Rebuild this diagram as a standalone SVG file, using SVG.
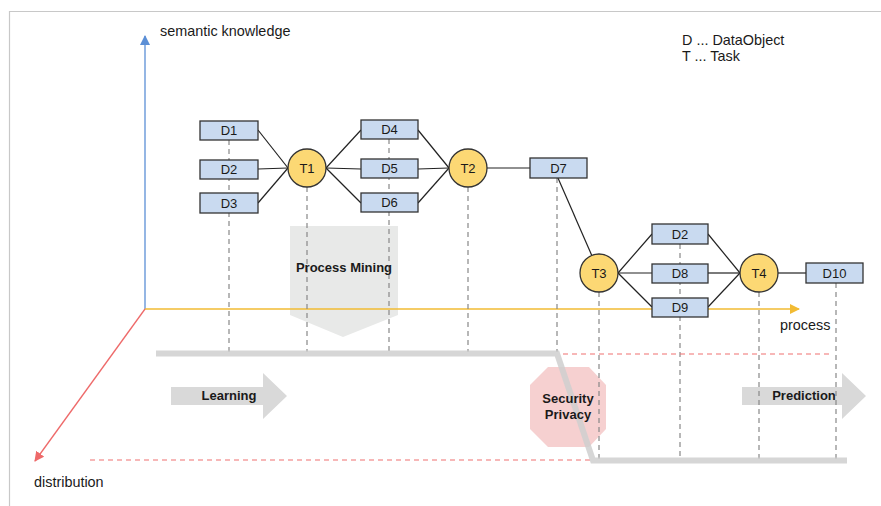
<svg xmlns="http://www.w3.org/2000/svg" width="881" height="506" viewBox="0 0 881 506">
<defs>
<style>
text{font-family:"Liberation Sans",Arial,sans-serif;fill:#1a1a1a}
.lbl{font-size:13px;text-anchor:middle}
.bold{font-size:13px;font-weight:bold;text-anchor:middle}
.ax{font-size:14.4px}
.d rect{fill:#c9daf0;stroke:#333;stroke-width:1.3}
.t circle{fill:#fcd874;stroke:#333;stroke-width:1.3}
.conn line{stroke:#222;stroke-width:1.2}
.dash line{stroke:#888;stroke-width:1.2;stroke-dasharray:5 4}
.rdash{stroke:#f07070;stroke-width:1.2;stroke-dasharray:5 4}
</style>
<marker id="ab" markerWidth="10" markerHeight="10" refX="9" refY="5" orient="auto" markerUnits="userSpaceOnUse"><path d="M0,0 L10,5 L0,10 z" fill="#5b8fd6"/></marker>
<marker id="ay" markerWidth="10" markerHeight="10" refX="9" refY="5" orient="auto" markerUnits="userSpaceOnUse"><path d="M0,0 L10,5 L0,10 z" fill="#f2bb33"/></marker>
<marker id="ar" markerWidth="10" markerHeight="10" refX="9" refY="5" orient="auto" markerUnits="userSpaceOnUse"><path d="M0,0 L10,5 L0,10 z" fill="#ee6a6a"/></marker>
</defs>
<rect width="881" height="506" fill="#fff"/>
<path d="M9.5,506 V11.5 H881" fill="none" stroke="#c8c8c8" stroke-width="1.2"/>

<!-- background shapes -->
<g id="process-mining">
<polygon points="290,226 398,226 398,315 343,337 290,315" fill="#e8e9e8"/>
</g>
<g id="security-privacy">
<polygon points="548,367 589,367 606,385 606,429 589,447 548,447 530,429 530,385" fill="#f6d0d0"/>
</g>
<g id="learning">
<polygon points="171,387 263,387 263,373 287,396 263,419 263,405 171,405" fill="#d9d9d9"/>
</g>
<g id="prediction">
<polygon points="742,387 842,387 842,373 866,396 842,419 842,405 742,405" fill="#d9d9d9"/>
</g>

<!-- axes -->
<g id="axes">
<line x1="145" y1="309" x2="145" y2="36" stroke="#5b8fd6" stroke-width="1.3" marker-end="url(#ab)"/>
<line x1="145" y1="309" x2="799" y2="309" stroke="#f2bb33" stroke-width="1.6" marker-end="url(#ay)"/>
<line x1="145" y1="309" x2="35" y2="461" stroke="#ee6a6a" stroke-width="1.3" marker-end="url(#ar)"/>
</g>

<!-- dashed guides -->
<g id="guides" class="dash">
<line x1="229" y1="140" x2="229" y2="352"/>
<line x1="307" y1="187" x2="307" y2="352"/>
<line x1="389" y1="139" x2="389" y2="352"/>
<line x1="468" y1="187" x2="468" y2="352"/>
<line x1="557" y1="178" x2="557" y2="352"/>
<line x1="599" y1="292" x2="599" y2="459"/>
<line x1="680" y1="244" x2="680" y2="459"/>
<line x1="759" y1="292" x2="759" y2="459"/>
<line x1="836" y1="283" x2="836" y2="459"/>
</g>
<line class="rdash" x1="563" y1="354" x2="829" y2="354"/>
<line class="rdash" x1="90" y1="460" x2="590" y2="460"/>

<!-- gray base -->
<path d="M156,353.5 H557 L593,460.5 H847" fill="none" stroke="#cfcfcf" stroke-width="6" stroke-opacity="0.85"/>

<!-- connectors -->
<g id="connectors" class="conn">
<line x1="258" y1="130" x2="288" y2="168"/>
<line x1="258" y1="169" x2="288" y2="168"/>
<line x1="258" y1="203" x2="288" y2="168"/>
<line x1="326" y1="168" x2="361" y2="130"/>
<line x1="326" y1="168" x2="361" y2="169"/>
<line x1="326" y1="168" x2="361" y2="203"/>
<line x1="418" y1="130" x2="449" y2="168"/>
<line x1="418" y1="169" x2="449" y2="168"/>
<line x1="418" y1="203" x2="449" y2="168"/>
<line x1="487" y1="168" x2="530" y2="168"/>
<line x1="558" y1="178" x2="592" y2="256"/>
<line x1="618" y1="273" x2="652" y2="234"/>
<line x1="618" y1="273" x2="652" y2="273"/>
<line x1="618" y1="273" x2="652" y2="307"/>
<line x1="708" y1="234" x2="740" y2="273"/>
<line x1="708" y1="273" x2="740" y2="273"/>
<line x1="708" y1="307" x2="740" y2="273"/>
<line x1="778" y1="273" x2="806" y2="273"/>
</g>

<!-- nodes -->
<g id="D1" class="d"><rect x="200" y="121" width="58" height="19"/><text class="lbl" x="229" y="135">D1</text></g>
<g id="D2" class="d"><rect x="200" y="160" width="58" height="19"/><text class="lbl" x="229" y="174">D2</text></g>
<g id="D3" class="d"><rect x="200" y="193" width="58" height="20"/><text class="lbl" x="229" y="208">D3</text></g>
<g id="T1" class="t"><circle cx="307" cy="168" r="19"/><text class="lbl" x="307" y="173">T1</text></g>
<g id="D4" class="d"><rect x="361" y="120" width="57" height="19"/><text class="lbl" x="389.5" y="134">D4</text></g>
<g id="D5" class="d"><rect x="361" y="159" width="57" height="19"/><text class="lbl" x="389.5" y="173">D5</text></g>
<g id="D6" class="d"><rect x="361" y="193" width="57" height="19"/><text class="lbl" x="389.5" y="207">D6</text></g>
<g id="T2" class="t"><circle cx="468" cy="168" r="19"/><text class="lbl" x="468" y="173">T2</text></g>
<g id="D7" class="d"><rect x="530" y="158" width="57" height="20"/><text class="lbl" x="558.5" y="173">D7</text></g>
<g id="T3" class="t"><circle cx="599" cy="273" r="19"/><text class="lbl" x="599" y="278">T3</text></g>
<g id="D2b" class="d"><rect x="652" y="224" width="56" height="20"/><text class="lbl" x="680" y="239">D2</text></g>
<g id="D8" class="d"><rect x="652" y="264" width="56" height="19"/><text class="lbl" x="680" y="278">D8</text></g>
<g id="D9" class="d"><rect x="652" y="298" width="56" height="19"/><text class="lbl" x="680" y="312">D9</text></g>
<g id="T4" class="t"><circle cx="759" cy="273" r="19"/><text class="lbl" x="759" y="278">T4</text></g>
<g id="D10" class="d"><rect x="806" y="263" width="57" height="20"/><text class="lbl" x="834.5" y="278">D10</text></g>

<!-- labels -->
<text class="bold" x="344" y="272">Process Mining</text>
<text class="bold" x="229" y="400">Learning</text>
<text class="bold" x="804" y="400">Prediction</text>
<text class="bold" x="568" y="403">Security</text>
<text class="bold" x="568" y="419">Privacy</text>

<text class="ax" x="160" y="36">semantic knowledge</text>
<text class="ax" x="780" y="330">process</text>
<text class="ax" x="34" y="487">distribution</text>
<text class="ax" x="682" y="45">D ... DataObject</text>
<text class="ax" x="682" y="61">T ... Task</text>
</svg>
